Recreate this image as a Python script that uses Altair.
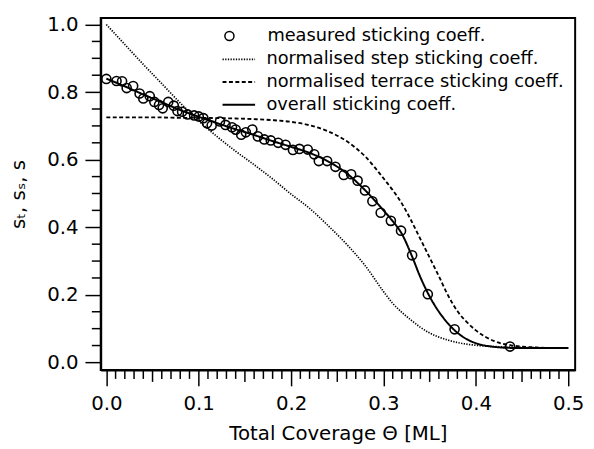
import altair as alt
import pandas as pd

# measured sticking coefficient (circles)
theta_meas = [0.000, 0.011, 0.017, 0.022, 0.029, 0.036, 0.040, 0.047, 0.052, 0.057,
              0.061, 0.067, 0.073, 0.077, 0.082, 0.088, 0.095, 0.100, 0.105, 0.109,
              0.114, 0.123, 0.129, 0.136, 0.140, 0.146, 0.151, 0.158, 0.164, 0.171,
              0.178, 0.186, 0.194, 0.202, 0.209, 0.218, 0.225, 0.230, 0.239, 0.248,
              0.257, 0.265, 0.272, 0.280, 0.288, 0.297, 0.308, 0.319, 0.331, 0.348,
              0.377, 0.437]
s_meas = [0.839, 0.833, 0.832, 0.812, 0.818, 0.796, 0.781, 0.788, 0.771, 0.762,
          0.752, 0.771, 0.760, 0.744, 0.742, 0.734, 0.731, 0.728, 0.723, 0.708,
          0.701, 0.713, 0.703, 0.696, 0.689, 0.674, 0.681, 0.689, 0.669, 0.660,
          0.657, 0.650, 0.644, 0.629, 0.632, 0.630, 0.616, 0.596, 0.596, 0.579,
          0.555, 0.557, 0.538, 0.509, 0.477, 0.443, 0.419, 0.390, 0.317, 0.202,
          0.098, 0.047]

# model curves
theta_fit = [0.00, 0.02, 0.04, 0.06, 0.08, 0.10, 0.12, 0.14, 0.16, 0.18,
             0.20, 0.22, 0.24, 0.26, 0.28, 0.30, 0.31, 0.32, 0.33, 0.34,
             0.35, 0.36, 0.37, 0.38, 0.39, 0.40, 0.42, 0.44, 0.46, 0.48, 0.50]
s_step = [1.000, 0.941, 0.882, 0.825, 0.768, 0.715, 0.668, 0.625, 0.585, 0.543,
          0.498, 0.456, 0.405, 0.350, 0.287, 0.210, 0.175, 0.148, 0.125, 0.104,
          0.087, 0.075, 0.066, 0.059, 0.054, 0.051, 0.047, 0.045, 0.044, 0.043, 0.043]
s_terrace = [0.725, 0.725, 0.725, 0.725, 0.724, 0.724, 0.723, 0.722, 0.720, 0.717,
             0.712, 0.702, 0.684, 0.655, 0.610, 0.545, 0.510, 0.470, 0.420, 0.365,
             0.310, 0.255, 0.198, 0.152, 0.120, 0.095, 0.063, 0.050, 0.045, 0.043, 0.043]
s_overall = [0.840, 0.817, 0.793, 0.770, 0.747, 0.727, 0.708, 0.690, 0.673, 0.655,
             0.638, 0.620, 0.595, 0.560, 0.510, 0.450, 0.418, 0.380, 0.320, 0.252,
             0.195, 0.150, 0.115, 0.088, 0.069, 0.057, 0.046, 0.043, 0.043, 0.043, 0.043]

meas_name = "measured sticking coeff."
series_names = ["normalised step sticking coeff.",
                "normalised terrace sticking coeff.",
                "overall sticking coeff."]

# axis ticks
x_major = [0.0, 0.1, 0.2, 0.3, 0.4, 0.5]
y_major = [0.0, 0.2, 0.4, 0.6, 0.8, 1.0]
x_mid = [0.05, 0.15, 0.25, 0.35, 0.45]
x_minor = [round(i * 0.01, 2) for i in range(51) if i % 5 != 0]
y_minor = [0.05, 0.1, 0.15, 0.25, 0.3, 0.35, 0.45, 0.5, 0.55, 0.65, 0.7, 0.75, 0.85, 0.9, 0.95]

W, H = 481, 357

df_meas = pd.DataFrame({"theta": theta_meas, "s": s_meas, "label": meas_name})
df_lines = pd.concat([
    pd.DataFrame({"theta": theta_fit, "s": vals, "series": name})
    for name, vals in zip(series_names, [s_step, s_terrace, s_overall])
], ignore_index=True)
df_xmin = pd.DataFrame({"theta": x_minor})
df_xmid = pd.DataFrame({"theta": x_mid})
df_ymin = pd.DataFrame({"s": y_minor})

xscale = alt.Scale(domain=[-0.0061, 0.5075], nice=False, zero=False)
yscale = alt.Scale(domain=[-0.0225, 1.0196], nice=False, zero=False)

x_axis = alt.Axis(orient="bottom", values=x_major, format=".1f",
                  title="Total Coverage Θ [ML]", tickSize=16,
                  labelPadding=8, labelFlush=False, labelOverlap=False, titlePadding=10)
y_axis = alt.Axis(orient="left", values=y_major, format=".1f",
                  title="sₜ, sₛ, s", tickSize=16,
                  labelPadding=7, labelFlush=False, labelOverlap=False, titlePadding=18)

lines = alt.Chart(df_lines).mark_line(color="black", interpolate="monotone").encode(
    x=alt.X("theta:Q", scale=xscale, axis=x_axis),
    y=alt.Y("s:Q", scale=yscale, axis=y_axis),
    strokeDash=alt.StrokeDash(
        "series:N",
        scale=alt.Scale(domain=series_names, range=[[1.3, 1.4], [4, 2.5], [1, 0]]),
        legend=alt.Legend(orient="none", legendX=131, legendY=33, title=None,
                          symbolType="M-3,0H3", symbolSize=121, symbolStrokeWidth=2,
                          symbolStrokeColor="black", labelOffset=19, rowPadding=5,
                          labelLimit=400),
    ),
    strokeWidth=alt.StrokeWidth(
        "series:N", scale=alt.Scale(domain=series_names, range=[1.7, 2, 2]), legend=None),
)

pts = alt.Chart(df_meas).mark_point(filled=False, color="black", size=85, strokeWidth=1.6,
                                     opacity=1).encode(
    x=alt.X("theta:Q", scale=xscale, axis=x_axis),
    y=alt.Y("s:Q", scale=yscale, axis=y_axis),
    shape=alt.Shape(
        "label:N",
        scale=alt.Scale(domain=[meas_name], range=["circle"]),
        legend=alt.Legend(orient="none", legendX=121.5, legendY=9.3, title=None,
                          symbolSize=85, symbolStrokeWidth=1.5, symbolStrokeColor="black",
                          symbolFillColor="transparent", symbolOpacity=1,
                          labelOffset=29.5, labelLimit=400),
    ),
)

# minor / intermediate axis ticks, placed through the same scales
x_minor_ticks = alt.Chart(df_xmin).mark_rule(color="black", strokeWidth=1.5).encode(
    x=alt.X("theta:Q", scale=xscale, axis=x_axis),
    y=alt.value(H), y2=alt.value(H + 9),
)
x_mid_ticks = alt.Chart(df_xmid).mark_rule(color="black", strokeWidth=1.5).encode(
    x=alt.X("theta:Q", scale=xscale, axis=x_axis),
    y=alt.value(H), y2=alt.value(H + 12),
)
y_minor_ticks = alt.Chart(df_ymin).mark_rule(color="black", strokeWidth=1.5).encode(
    y=alt.Y("s:Q", scale=yscale, axis=y_axis),
    x=alt.value(0), x2=alt.value(-9),
)

chart = alt.layer(lines, pts, x_minor_ticks, x_mid_ticks, y_minor_ticks).properties(
    width=W, height=H,
    autosize=alt.AutoSizeParams(type="none"),
    padding={"left": 94, "top": 7, "right": 11, "bottom": 77},
).configure_view(
    stroke="black", strokeWidth=2
).configure_axis(
    domainColor="black", domainWidth=2, tickColor="black", tickWidth=1.5,
    labelFont="DejaVu Sans", labelFontSize=20, labelColor="black",
    titleFont="DejaVu Sans", titleFontSize=20, titleFontWeight="normal", titleColor="black",
    grid=False,
).configure_legend(
    labelFont="DejaVu Sans", labelFontSize=18, labelColor="black", padding=0,
)

chart.save("out.html", embed_options={"renderer": "svg", "actions": False})
